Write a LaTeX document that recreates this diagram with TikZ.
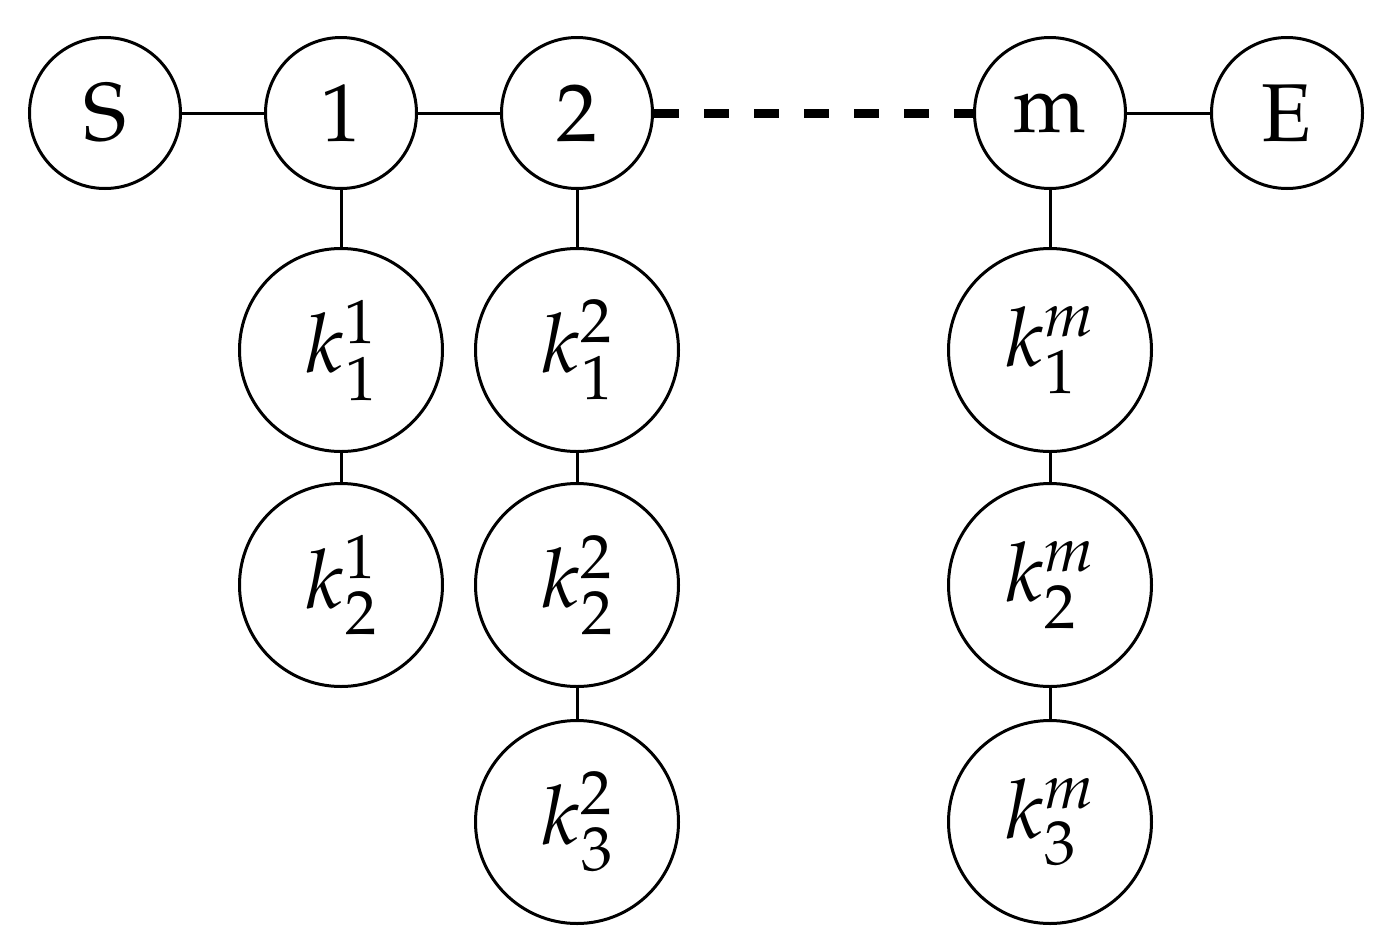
\documentclass[tikz,border=0pt]{standalone}
\usepackage[T1]{fontenc}
\usepackage{mathpazo}
\begin{document}
\begin{tikzpicture}[x=1pt,y=-1pt,
  small/.style={circle,draw,line width=3pt,minimum size=151pt,inner sep=0pt,font=\fontsize{82}{90}\selectfont},
  big/.style={circle,draw,line width=3pt,minimum size=203pt,inner sep=0pt,font=\fontsize{82}{90}\selectfont},
  link/.style={line width=3pt},
  dlink/.style={line width=9pt,dash pattern=on 25pt off 25pt}]
\useasboundingbox (0,0) rectangle (1385,943);
\node[small] (S) at (105,113) {S};
\node[small] (n1) at (341,113) {1};
\node[small] (n2) at (577,113) {2};
\node[small] (nm) at (1050,113) {m};
\node[small] (E) at (1287,113) {E};
\node[big] (k11) at (341,350) {$k^1_1$};
\node[big] (k12) at (341,585) {$k^1_2$};
\node[big] (k21) at (577,350) {$k^2_1$};
\node[big] (k22) at (577,585) {$k^2_2$};
\node[big] (k23) at (577,822) {$k^2_3$};
\node[big] (km1) at (1050,350) {$k^m_1$};
\node[big] (km2) at (1050,585) {$k^m_2$};
\node[big] (km3) at (1050,822) {$k^m_3$};
\draw[link] (S) -- (n1);
\draw[link] (n1) -- (n2);
\draw[dlink] (n2) -- (nm);
\draw[link] (nm) -- (E);
\draw[link] (n1) -- (k11);
\draw[link] (k11) -- (k12);
\draw[link] (n2) -- (k21);
\draw[link] (k21) -- (k22);
\draw[link] (k22) -- (k23);
\draw[link] (nm) -- (km1);
\draw[link] (km1) -- (km2);
\draw[link] (km2) -- (km3);
\end{tikzpicture}
\end{document}
